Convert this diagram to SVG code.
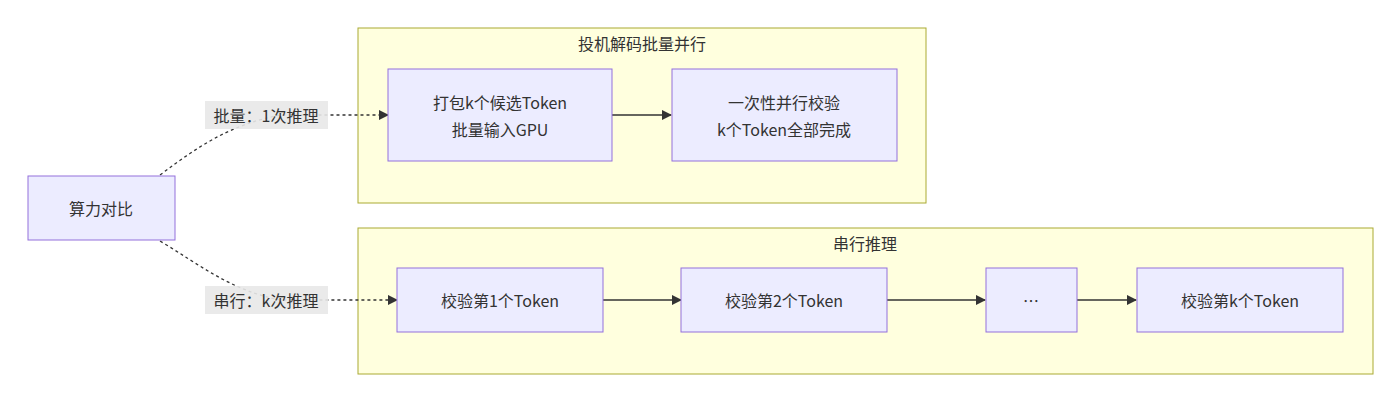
<svg xmlns="http://www.w3.org/2000/svg" width="1400" height="402" viewBox="0 0 1400 402">
<style>
text{font-family:"Noto Sans CJK SC","Noto Sans",sans-serif;font-size:16px;fill:#333;text-anchor:middle;dominant-baseline:central}
.n{fill:#ECECFF;stroke:#9370DB;stroke-width:1}
.c{fill:#ffffde;stroke:#aaaa33;stroke-width:1}
.e{fill:none;stroke:#333;stroke-width:1.3}
.d{stroke-dasharray:3 3}
.lb{fill:#e8e8e8;opacity:0.9}
</style>
<defs><marker id="a" viewBox="0 0 10 10" refX="9" refY="5" markerWidth="8" markerHeight="8" orient="auto"><path d="M0,0L10,5L0,10z" fill="#333"/></marker></defs>
<g id="cluster1"><rect class="c" x="358" y="28" width="568" height="175"/><text x="642" y="43">投机解码批量并行</text></g>
<g id="cluster2"><rect class="c" x="358" y="228" width="1015" height="146"/><text x="865" y="243">串行推理</text></g>
<g id="edges">
<path class="e d" d="M160,175 C200,145 230,125 280,115 L388,115" marker-end="url(#a)"/>
<path class="e d" d="M160,241 C200,265 230,290 280,300 L397,300" marker-end="url(#a)"/>
<path class="e" d="M612,115 L671,115" marker-end="url(#a)"/>
<path class="e" d="M603,300 L681,300" marker-end="url(#a)"/>
<path class="e" d="M887,300 L985,300" marker-end="url(#a)"/>
<path class="e" d="M1077,300 L1136,300" marker-end="url(#a)"/>
</g>
<g id="label1"><rect class="lb" x="205" y="101" width="123" height="28"/><text x="266" y="115">批量：1次推理</text></g>
<g id="label2"><rect class="lb" x="205" y="286" width="123" height="28"/><text x="266" y="300">串行：k次推理</text></g>
<g id="compare"><rect class="n" x="28" y="176" width="147" height="64"/><text x="101" y="208">算力对比</text></g>
<g id="pack"><rect class="n" x="388" y="69" width="224" height="92"/><text x="500" y="102">打包k个候选Token</text><text x="500" y="129">批量输入GPU</text></g>
<g id="verifyAll"><rect class="n" x="672" y="69" width="225" height="92"/><text x="784" y="102">一次性并行校验</text><text x="784" y="129">k个Token全部完成</text></g>
<g id="v1"><rect class="n" x="397" y="268" width="206" height="64"/><text x="500" y="300">校验第1个Token</text></g>
<g id="v2"><rect class="n" x="681" y="268" width="206" height="64"/><text x="784" y="300">校验第2个Token</text></g>
<g id="vdots"><rect class="n" x="986" y="268" width="91" height="64"/><text x="1031" y="300">…</text></g>
<g id="vk"><rect class="n" x="1137" y="268" width="206" height="64"/><text x="1240" y="300">校验第k个Token</text></g>
</svg>
